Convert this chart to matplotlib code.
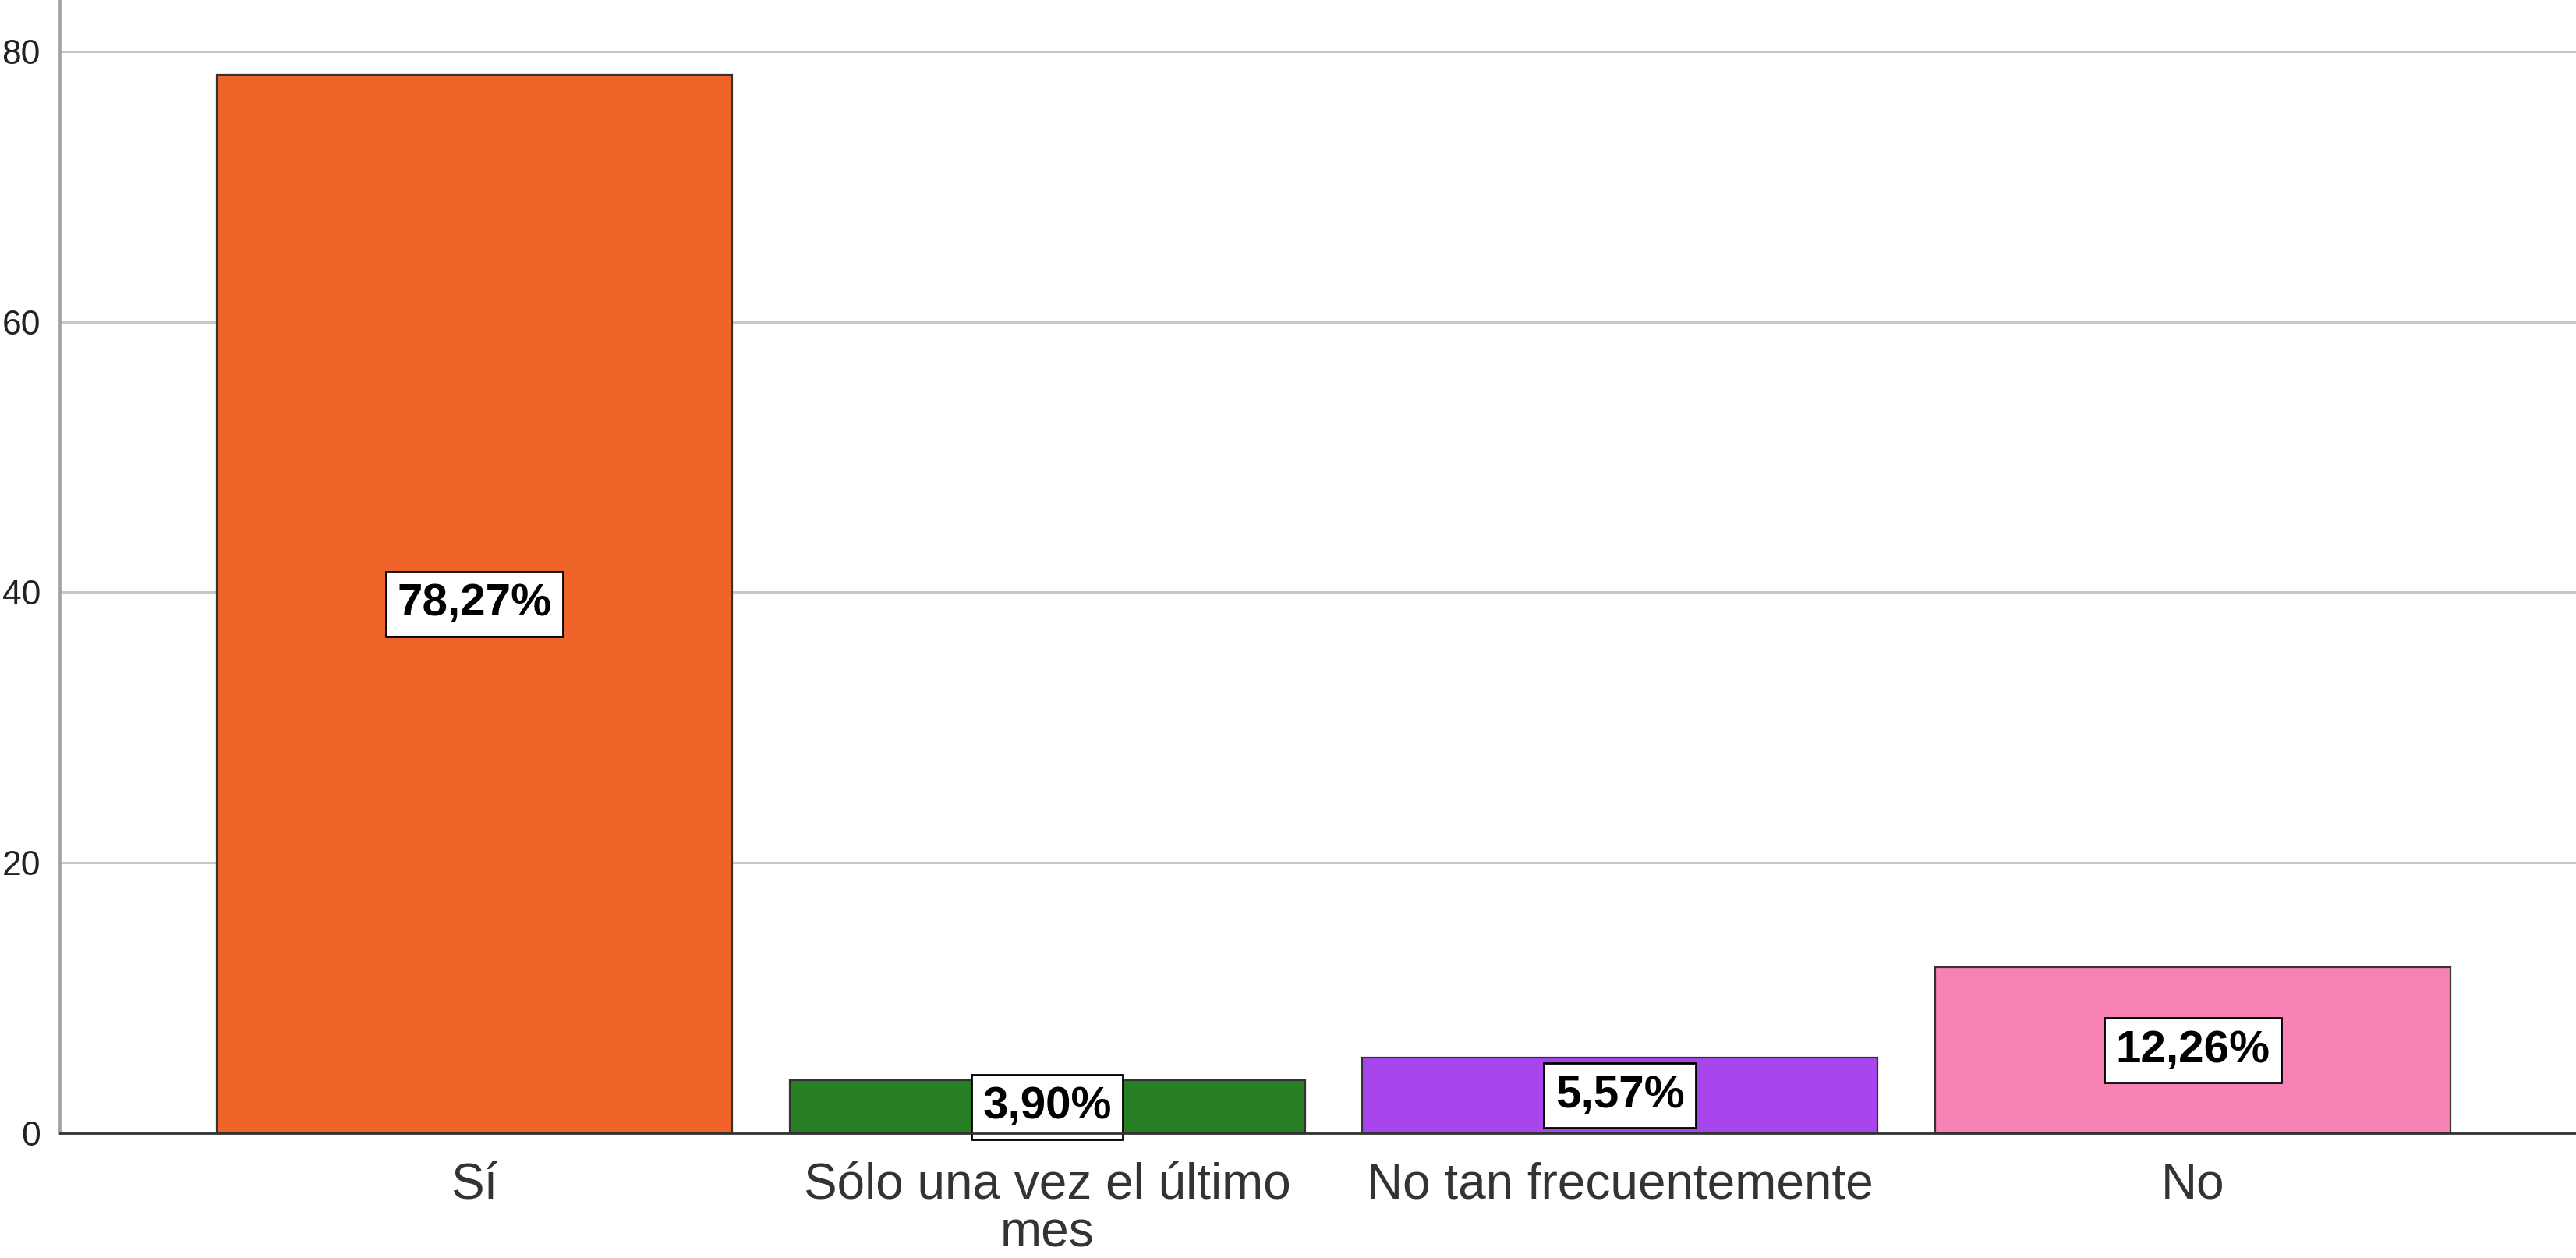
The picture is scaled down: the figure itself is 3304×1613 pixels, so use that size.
import matplotlib.pyplot as plt

categorias = ["Sí", "Sólo una vez el último\nmes", "No tan frecuentemente", "No"]
valores = [78.27, 3.90, 5.57, 12.26]
etiquetas = ["78,27%", "3,90%", "5,57%", "12,26%"]
colores = ["#EF6428", "#277F23", "#A846EE", "#F982B5"]
yticks = [0, 20, 40, 60, 80]

plt.rcParams['font.family'] = ['Liberation Sans', 'DejaVu Sans']

fig = plt.figure(figsize=(16.52, 8.065), dpi=200)
ax = fig.add_axes([0.0233, 0.0992, 0.9767, 0.9008])

x = range(len(categorias))
ax.bar(x, valores, width=0.9, color=colores, edgecolor="#333333", linewidth=0.8, zorder=3)

for i, v in enumerate(valores):
    ax.text(i, v / 2, etiquetas[i], ha="center", va="center", fontsize=21,
            fontweight="bold", color="black", zorder=4,
            bbox=dict(boxstyle="square,pad=0.25", facecolor="white",
                      edgecolor="black", linewidth=1.0))

ax.set_xlim(-0.7235, 3.669)
ax.set_ylim(0, 83.8)
ax.set_yticks(yticks)
ax.set_xticks(list(x))
ax.set_xticklabels(categorias, fontsize=23, color="#333333", linespacing=1.05)
ax.tick_params(axis="y", length=0, pad=9, labelsize=16, labelcolor="#222222")
ax.tick_params(axis="x", length=0, pad=13)

ax.grid(axis="y", color="#c8c8c8", linewidth=1.1, zorder=0)
ax.set_axisbelow(True)

for s in ["top", "right"]:
    ax.spines[s].set_visible(False)
ax.spines["left"].set_color("#a0a0a0")
ax.spines["left"].set_linewidth(1.3)
ax.spines["bottom"].set_color("#333333")
ax.spines["bottom"].set_linewidth(1.0)
ax.spines["bottom"].set_zorder(5)

fig.savefig("out.png", dpi=200, facecolor="white")
